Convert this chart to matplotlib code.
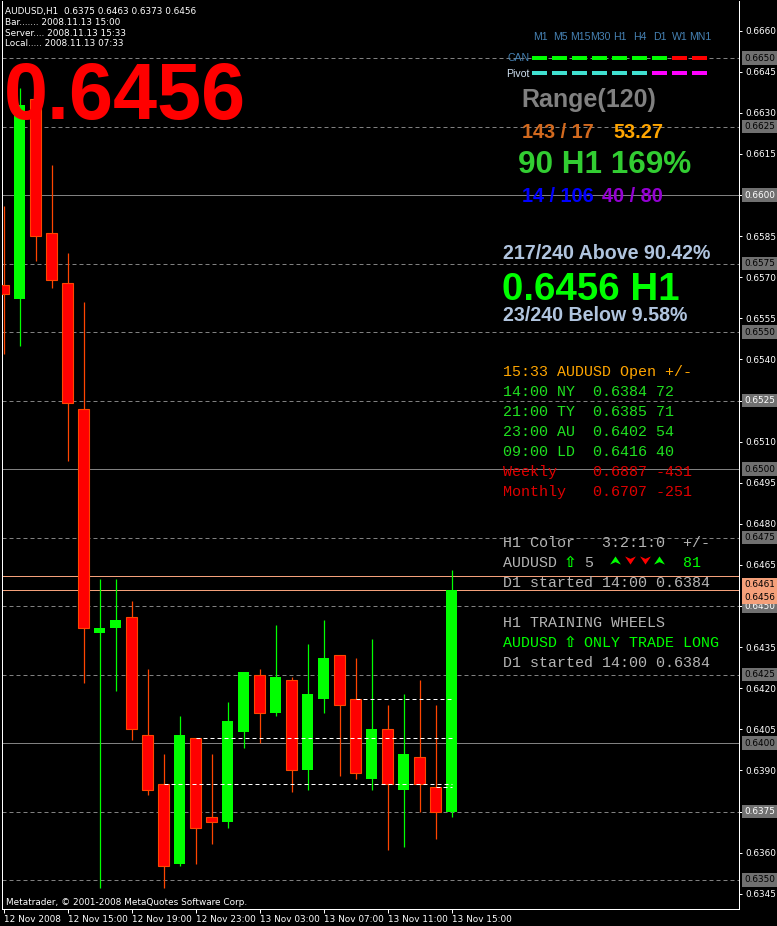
# -*- coding: utf-8 -*-
import matplotlib
matplotlib.use('Agg')
import matplotlib.pyplot as plt
import matplotlib.transforms as mtransforms
from matplotlib.patches import Rectangle
from matplotlib.lines import Line2D

W, H = 777, 926

# AUDUSD H1 bars, 12 Nov 11:00 .. 13 Nov 15:00
opens = [0.6567, 0.6562, 0.6635, 0.6586, 0.6568, 0.6522, 0.6440, 0.6442, 0.6446, 0.6403,
         0.6385, 0.6356, 0.6402, 0.6373, 0.6371, 0.6404, 0.6425, 0.6411, 0.6423, 0.6390,
         0.6416, 0.6432, 0.6416, 0.6387, 0.6405, 0.6383, 0.6395, 0.6384, 0.6375]
highs = [0.6596, 0.6639, 0.6636, 0.6611, 0.6579, 0.6561, 0.6460, 0.6460, 0.6452, 0.6427,
         0.6396, 0.6410, 0.6402, 0.6396, 0.6415, 0.6426, 0.6427, 0.6443, 0.6424, 0.6436,
         0.6445, 0.6432, 0.6431, 0.6438, 0.6414, 0.6418, 0.6423, 0.6414, 0.6463]
lows = [0.6542, 0.6545, 0.6576, 0.6566, 0.6503, 0.6422, 0.6347, 0.6419, 0.6401, 0.6381,
        0.6347, 0.6355, 0.6356, 0.6363, 0.6369, 0.6398, 0.6400, 0.6410, 0.6382, 0.6383,
        0.6411, 0.6388, 0.6387, 0.6383, 0.6361, 0.6362, 0.6375, 0.6365, 0.6373]
closes = [0.6564, 0.6633, 0.6585, 0.6569, 0.6524, 0.6442, 0.6442, 0.6445, 0.6405, 0.6383,
          0.6355, 0.6403, 0.6369, 0.6371, 0.6408, 0.6426, 0.6411, 0.6424, 0.6390, 0.6418,
          0.6431, 0.6414, 0.6389, 0.6405, 0.6385, 0.6396, 0.6385, 0.6375, 0.6456]

xtick_labels = ['12 Nov 2008', '12 Nov 15:00', '12 Nov 19:00', '12 Nov 23:00',
                '13 Nov 03:00', '13 Nov 07:00', '13 Nov 11:00', '13 Nov 15:00']
ytick_values = [0.6660, 0.6645, 0.6630, 0.6615, 0.6600, 0.6585, 0.6570, 0.6555, 0.6540,
                0.6525, 0.6510, 0.6495, 0.6480, 0.6465, 0.6450, 0.6435, 0.6420, 0.6405,
                0.6390, 0.6375, 0.6360, 0.6345]
level_values = [0.6650, 0.6625, 0.6600, 0.6575, 0.6550, 0.6525, 0.6500,
                0.6475, 0.6450, 0.6425, 0.6400, 0.6375, 0.6350]
solid_levels = [0.6600, 0.6500, 0.6400]
bright_levels = [0.6600, 0.6525, 0.6450, 0.6375]
day_high = 0.6461
bid = 0.6456

session_names = ['NY', 'TY', 'AU', 'LD']
session_times = ['14:00', '21:00', '23:00', '09:00']
session_opens = [0.6384, 0.6385, 0.6402, 0.6416]
session_bar = [27, 10, 12, 22]
weekly_open = 0.6887
monthly_open = 0.6707

tf_labels = ['M1', 'M5', 'M15', 'M30', 'H1', 'H4', 'D1', 'W1', 'MN1']
can_state = [1, 1, 1, 1, 1, 1, 1, -1, -1]
pivot_state = [1, 1, 1, 1, 1, 1, -1, -1, -1]
h1_arrows = [1, -1, -1, 1]

plt.rcParams['font.family'] = ['DejaVu Sans']
SMALL = 6.4
BOLD = 'Liberation Sans'
MONO = ['Liberation Mono', 'DejaVu Sans Mono']

fig = plt.figure(figsize=(W / 100, H / 100), dpi=100, facecolor='black')
ax = fig.add_axes([2 / W, 1 - 909 / H, 737 / W, 908 / H], facecolor='black')

# price scale: 0.6450 at pixel 606, 27400 px per unit
ax.set_ylim(0.6450 - (909 - 606) / 27400, 0.6450 + (606 - 1) / 27400)
ax.set_xlim(-0.094, -0.094 + 737 / 16)

# horizontal levels
for lv in level_values:
    if lv in solid_levels:
        ax.axhline(lv, color='#808080', lw=0.72, zorder=1)
    else:
        ax.axhline(lv, color='#808080', lw=0.72, ls=(0, (4, 3)), zorder=1)
ax.axhline(day_high, color='#F4A07A', lw=0.72, zorder=1)
ax.axhline(bid, color='#F4A07A', lw=0.72, zorder=1)

# candles
for i in range(len(opens)):
    o, h, l, c = opens[i], highs[i], lows[i], closes[i]
    if c >= o:
        ax.vlines(i, l, h, color='#00FF00', lw=0.9, zorder=2)
        ax.add_patch(Rectangle((i - 0.33, o), 0.66, max(c - o, 0.00004),
                               facecolor='#00FF00', edgecolor='#00FF00', lw=0, zorder=3))
    else:
        ax.vlines(i, l, h, color='#FF4500', lw=0.9, zorder=2)
        ax.add_patch(Rectangle((i - 0.33, c), 0.66, max(o - c, 0.00004),
                               facecolor='#FF0000', edgecolor='#FF4500', lw=0.8, zorder=3))

# session open lines
last = len(opens) - 1
for b, so in zip(session_bar, session_opens):
    ax.hlines(so, b, last, color='white', lw=0.72, ls=(0, (4, 3)), zorder=4)

# axes styling
for s in ['left', 'right', 'bottom']:
    ax.spines[s].set_color('white')
    ax.spines[s].set_linewidth(0.72)
ax.spines['top'].set_visible(False)

ax.yaxis.tick_right()
ax.set_yticks(ytick_values)
ax.set_yticklabels(['%.4f' % v for v in ytick_values])
ax.tick_params(axis='y', direction='out', length=2.2, width=0.72, color='white',
               labelcolor='white', labelsize=SMALL, pad=2.2)

ax.set_xticks(list(range(0, len(opens), 4)))
ax.set_xticklabels(xtick_labels, ha='left')
ax.tick_params(axis='x', direction='out', length=3, width=0.72, color='white',
               labelcolor='white', labelsize=SMALL, pad=1)

# price boxes on the right scale
tr = mtransforms.blended_transform_factory(ax.transAxes, ax.transData)
bx = (744 - 2) / 737
for lv in level_values:
    tc = 'white' if lv in bright_levels else 'black'
    ax.text(bx, lv, '%.4f' % lv, transform=tr, color=tc, fontsize=SMALL, va='center',
            ha='left', bbox=dict(boxstyle='square,pad=0.25', fc='#707070', ec='none'),
            clip_on=False, zorder=6)
for lv, off in [(day_high, -8.5), (bid, -7.5)]:
    t2 = mtransforms.offset_copy(tr, fig=fig, y=off, units='dots')
    ax.text(bx, lv, '%.4f' % lv, transform=t2, color='black', fontsize=SMALL, va='center',
            ha='left', bbox=dict(boxstyle='square,pad=0.25', fc='#F4A07A', ec='none'),
            clip_on=False, zorder=6)


def put(x, y, s, **kw):
    ha = kw.pop('ha', 'left')
    fig.text(x / W, 1 - y / H, s, va='baseline', ha=ha, **kw)


def box(x, y, w, h, color):
    fig.add_artist(Rectangle((x / W, 1 - (y + h) / H), w / W, h / H,
                             transform=fig.transFigure, color=color, lw=0))


# header
put(5, 14, 'AUDUSD,H1  %.4f %.4f %.4f %.4f' % (opens[-1], highs[-1], lows[-1], closes[-1]),
    color='white', fontsize=SMALL)
put(5, 25, 'Bar....... 2008.11.13 15:00', color='white', fontsize=SMALL)
put(5, 36, 'Server.... 2008.11.13 15:33', color='white', fontsize=SMALL)
put(5, 46.5, 'Local..... 2008.11.13 07:33', color='white', fontsize=SMALL)
put(3.5, 119, '%.4f' % bid, color='#FF0000', fontsize=57, family=BOLD, weight='bold')
put(6, 905, 'Metatrader, \u00a9 2001-2008 MetaQuotes Software Corp.', color='white',
    fontsize=SMALL)

# timeframe trend panel
for k, lab in enumerate(tf_labels):
    put(540 + 20 * k, 40, lab, color='#4682B4', fontsize=7.6, family=BOLD, ha='center')
    box(532 + 20 * k, 56, 15, 4, '#00FF00' if can_state[k] > 0 else '#FF0000')
    box(532 + 20 * k, 71, 15, 4, '#40E0D0' if pivot_state[k] > 0 else '#FF00FF')
put(508, 61, 'CAN', color='#4682B4', fontsize=7.6, family=BOLD)
put(506.5, 76.7, 'Pivot', color='#D0E0F0', fontsize=7.6, family=BOLD)

# range panel
put(521, 107.3, 'Range(120)', color='#808080', fontsize=18, family=BOLD, weight='bold')
put(522.5, 138.3, '143 / 17', color='#D2691E', fontsize=14.3, family=BOLD, weight='bold')
put(613, 138.3, '53.27', color='#FFA500', fontsize=14.3, family=BOLD, weight='bold')
put(518, 173.3, '90 H1 169%', color='#32CD32', fontsize=22.7, family=BOLD, weight='bold')
put(522.5, 201.7, '14 / 106', color='#0000FF', fontsize=14.3, family=BOLD, weight='bold')
put(602.5, 201.7, '40 / 80', color='#9400D3', fontsize=14.3, family=BOLD, weight='bold')
put(503, 259, '217/240 Above 90.42%', color='#B0C4DE', fontsize=14.1, family=BOLD,
    weight='bold')
put(502, 300, '%.4f H1' % bid, color='#00FF00', fontsize=27.7, family=BOLD, weight='bold')
put(503, 320.7, '23/240 Below 9.58%', color='#B0C4DE', fontsize=14.1, family=BOLD,
    weight='bold')

# session table (monospace)
X0, CW, MS = 503, 9.0, 10.8
put(X0, 376, '15:33 AUDUSD Open +/-', color='#FFA500', fontsize=MS, family=MONO)
for k in range(len(session_names)):
    pips = round((bid - session_opens[k]) * 10000)
    put(X0, 396 + 20 * k, '%s %s  %.4f %d' % (session_times[k], session_names[k],
                                            session_opens[k], pips),
        color='#20E020', fontsize=MS, family=MONO)
put(X0, 476, '%-10s%.4f %d' % ('Weekly', weekly_open, round((bid - weekly_open) * 10000)),
    color='#E00000', fontsize=MS, family=MONO)
put(X0, 496, '%-10s%.4f %d' % ('Monthly', monthly_open, round((bid - monthly_open) * 10000)),
    color='#E00000', fontsize=MS, family=MONO)

GREY = '#B4B4B4'
put(X0, 546.7, 'H1 Color   3:2:1:0  +/-', color=GREY, fontsize=MS, family=MONO)
put(X0, 566.7, 'AUDUSD', color=GREY, fontsize=MS, family=MONO)
put(X0 + 7.5 * CW, 566.7, '\u21e7', color='#00FF00', fontsize=11, family='DejaVu Sans',
    ha='center', weight='bold')
put(X0 + 9 * CW, 566.7, '5', color=GREY, fontsize=MS, family=MONO)
up_v = [(0, 0.75), (1, -0.75), (0, -0.3), (-1, -0.75), (0, 0.75)]
dn_v = [(x, -y) for x, y in up_v]
for k, a in enumerate(h1_arrows):
    fig.add_artist(Line2D([(615 + 14.8 * k) / W], [1 - 560 / H], transform=fig.transFigure,
                          marker=up_v if a > 0 else dn_v, ms=7.8, ls='none',
                          color='#00FF00' if a > 0 else '#FF0000', mew=0))
put(X0 + 20 * CW, 566.7, '81', color='#00FF00', fontsize=MS, family=MONO)
put(X0, 586.7, 'D1 started 14:00 %.4f' % session_opens[0], color=GREY, fontsize=MS,
    family=MONO)
put(X0, 626.7, 'H1 TRAINING WHEELS', color=GREY, fontsize=MS, family=MONO)
put(X0, 646.7, 'AUDUSD', color='#00FF00', fontsize=MS, family=MONO)
put(X0 + 7.5 * CW, 646.7, '\u21e7', color='#00FF00', fontsize=11, family='DejaVu Sans',
    ha='center', weight='bold')
put(X0 + 9 * CW, 646.7, 'ONLY TRADE LONG', color='#00FF00', fontsize=MS, family=MONO)
put(X0, 666.7, 'D1 started 14:00 %.4f' % session_opens[0], color=GREY, fontsize=MS,
    family=MONO)

fig.savefig('out.png', dpi=100, facecolor='black')
plt.close()
